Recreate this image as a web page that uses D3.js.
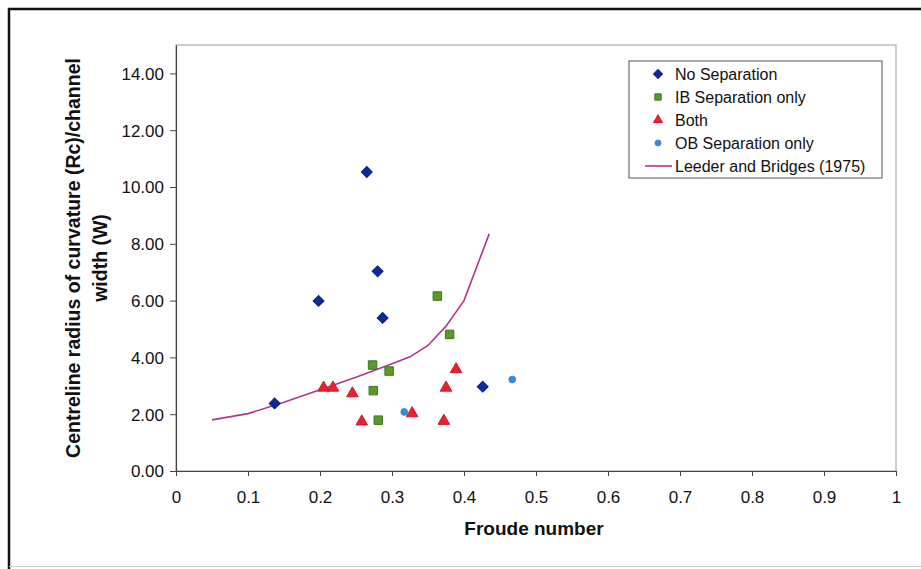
<!DOCTYPE html>
<html>
<head>
<meta charset="utf-8">
<script src="https://cdn.jsdelivr.net/npm/d3@7"></script>
<style>
  html, body { margin: 0; padding: 0; background: #fff; }
  svg { display: block; font-family: "Liberation Sans", Arial, sans-serif; }
</style>
</head>
<body>
<svg id="chart" width="921" height="569"></svg>
<script>
// =========================
// DATI
// =========================
const noSepX = [0.265, 0.280, 0.198, 0.287, 0.137, 0.426];
const noSepY = [10.53, 7.03, 5.99, 5.39, 2.38, 2.97];

const ibSepX = [0.363, 0.380, 0.273, 0.296, 0.274, 0.281];
const ibSepY = [6.16, 4.81, 3.73, 3.52, 2.83, 1.79];

const bothX = [0.205, 0.218, 0.245, 0.258, 0.328, 0.372, 0.375, 0.389];
const bothY = [2.93, 2.93, 2.73, 1.74, 2.03, 1.76, 2.93, 3.58];

const obSepX = [0.317, 0.467];
const obSepY = [2.08, 3.22];

const leederX = [0.05, 0.1, 0.15, 0.2, 0.25, 0.3, 0.325, 0.35, 0.375, 0.4, 0.435];
const leederY = [1.8, 2.02, 2.42, 2.86, 3.3, 3.78, 4.02, 4.42, 5.1, 6.0, 8.35];

const xTicks = [0, 0.1, 0.2, 0.3, 0.4, 0.5, 0.6, 0.7, 0.8, 0.9, 1];
const yTicks = [0, 2, 4, 6, 8, 10, 12, 14];

const legendLabels = ["No Separation", "IB Separation only", "Both", "OB Separation only", "Leeder and Bridges (1975)"];

// =========================
// SETUP
// =========================
const svg = d3.select("#chart");
const plot = { left: 176, top: 45, right: 896, bottom: 471 };

const x = d3.scaleLinear().domain([0, 1]).range([plot.left, plot.right]);
const y = d3.scaleLinear().domain([0, 15]).range([plot.bottom, plot.top]);

// cornice esterna
svg.append("line").attr("x1", 9).attr("y1", 8).attr("x2", 9).attr("y2", 569)
  .attr("stroke", "#111").attr("stroke-width", 2.5);
svg.append("line").attr("x1", 8).attr("y1", 9).attr("x2", 921).attr("y2", 9)
  .attr("stroke", "#111").attr("stroke-width", 2.5);
svg.append("line").attr("x1", 9).attr("y1", 566.5).attr("x2", 921).attr("y2", 566.5)
  .attr("stroke", "#ccc").attr("stroke-width", 1);

// bordo area grafico
svg.append("rect")
  .attr("x", plot.left).attr("y", plot.top)
  .attr("width", plot.right - plot.left).attr("height", plot.bottom - plot.top)
  .attr("fill", "none").attr("stroke", "#999").attr("stroke-width", 1);

// =========================
// ASSI
// =========================
const xAxis = svg.append("g")
  .attr("transform", `translate(0,${plot.bottom})`)
  .call(d3.axisBottom(x).tickValues(xTicks).tickFormat(d3.format("~g")).tickSize(5).tickSizeOuter(0));

const yAxis = svg.append("g")
  .attr("transform", `translate(${plot.left},0)`)
  .call(d3.axisLeft(y).tickValues(yTicks).tickFormat(d3.format(".2f")).tickSize(6).tickSizeOuter(0));

[xAxis, yAxis].forEach(ax => {
  ax.select(".domain").attr("stroke", "#444").attr("stroke-width", 1.2);
  ax.selectAll(".tick line").attr("stroke", "#444");
  ax.selectAll(".tick text")
    .attr("fill", "#111")
    .style("font-size", "17px")
    .style("font-family", "'Liberation Sans', Arial, sans-serif");
});
xAxis.selectAll(".tick text").attr("dy", null).attr("y", 32);
yAxis.selectAll(".tick text").attr("x", -12).attr("dy", "0.35em");

// titoli
svg.append("text")
  .attr("x", 534).attr("y", 535)
  .attr("text-anchor", "middle")
  .style("font-size", "19px").style("font-weight", "bold").attr("fill", "#111")
  .text("Froude number");

const yTitle = svg.append("text")
  .attr("transform", "translate(80,258) rotate(-90)")
  .attr("text-anchor", "middle")
  .style("font-size", "19.5px").style("font-weight", "bold").attr("fill", "#111");
yTitle.append("tspan").attr("x", 0).attr("y", 0).text("Centreline radius of curvature (Rc)/channel");
yTitle.append("tspan").attr("x", 0).attr("y", 27).text("width (W)");

// =========================
// SERIE
// =========================
const line = d3.line().x(d => x(d[0])).y(d => y(d[1]));
svg.append("path")
  .datum(d3.zip(leederX, leederY))
  .attr("fill", "none")
  .attr("stroke", "#b2338e")
  .attr("stroke-width", 1.6)
  .attr("d", line);

const diamond = d3.symbol().type(d3.symbolSquare).size(60);
const square = d3.symbol().type(d3.symbolSquare).size(72);
const triangle = d3.symbol().type(d3.symbolTriangle).size(58);
const circle = d3.symbol().type(d3.symbolCircle).size(36);

const styles = [
  { path: diamond, rot: 45, fill: "#0c2a9c", stroke: "#0a2380" },
  { path: square, rot: 0, fill: "#5a9a2a", stroke: "#3f7420" },
  { path: triangle, rot: 0, fill: "#ee2030", stroke: "#d01525" },
  { path: circle, rot: 0, fill: "#3a8ad8", stroke: "#3a8ad8" }
];

const series = [
  d3.zip(noSepX, noSepY),
  d3.zip(ibSepX, ibSepY),
  d3.zip(bothX, bothY),
  d3.zip(obSepX, obSepY)
];

series.forEach((pts, i) => {
  const s = styles[i];
  svg.append("g").selectAll("path")
    .data(pts)
    .join("path")
    .attr("transform", d => `translate(${x(d[0])},${y(d[1])}) rotate(${s.rot})`)
    .attr("d", s.path())
    .attr("fill", s.fill)
    .attr("stroke", s.stroke)
    .attr("stroke-width", 1);
});

// =========================
// LEGENDA
// =========================
const legend = svg.append("g");
legend.append("rect")
  .attr("x", 629).attr("y", 61).attr("width", 253).attr("height", 117)
  .attr("fill", "#fff").attr("stroke", "#555").attr("stroke-width", 1);

const rowY = d3.scaleLinear().domain([0, 4]).range([74, 166]);

legendLabels.forEach((lab, i) => {
  const cy = rowY(i);
  if (i < 4) {
    const s = styles[i];
    const small = [d3.symbol().type(d3.symbolSquare).size(40), d3.symbol().type(d3.symbolSquare).size(40),
                   d3.symbol().type(d3.symbolTriangle).size(36), d3.symbol().type(d3.symbolCircle).size(28)][i];
    legend.append("path")
      .attr("transform", `translate(658,${cy}) rotate(${s.rot})`)
      .attr("d", small())
      .attr("fill", s.fill).attr("stroke", s.stroke).attr("stroke-width", 1);
  } else {
    legend.append("line")
      .attr("x1", 645).attr("x2", 672).attr("y1", cy).attr("y2", cy)
      .attr("stroke", "#b2338e").attr("stroke-width", 1.6);
  }
  legend.append("text")
    .attr("x", 675).attr("y", cy + 5.5)
    .style("font-size", "16px").attr("fill", "#111")
    .text(lab);
});
</script>
</body>
</html>
